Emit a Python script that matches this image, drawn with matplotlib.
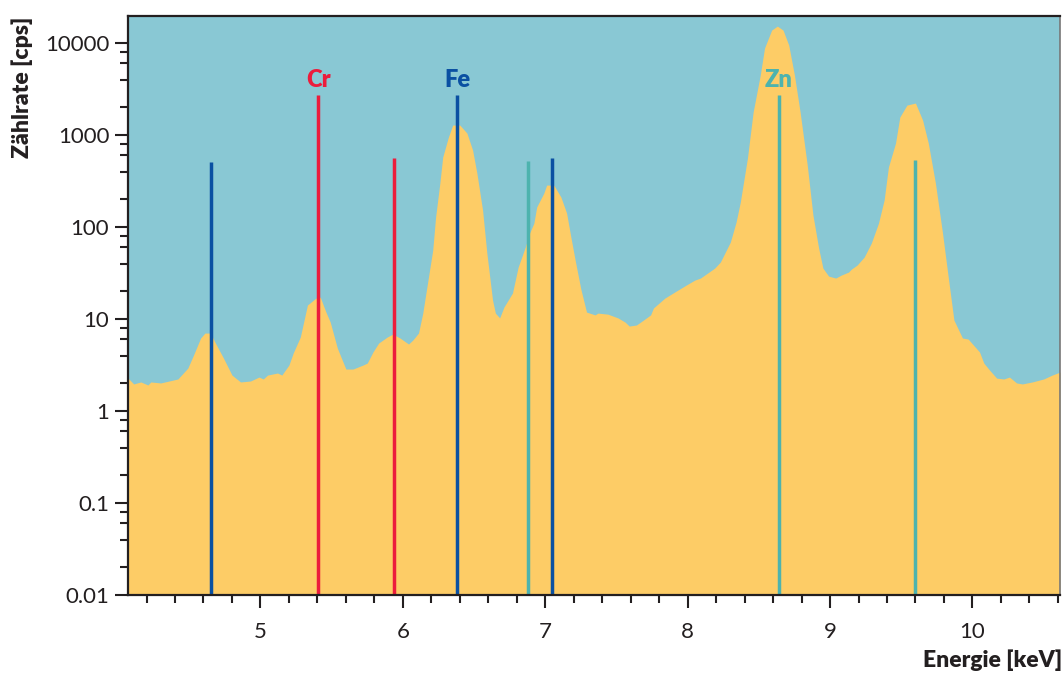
import matplotlib
matplotlib.use("Agg")
import matplotlib.pyplot as plt
from matplotlib.ticker import MultipleLocator, FixedLocator, FixedFormatter, NullFormatter

# ---- data ----
energy = [4.07, 4.11, 4.16, 4.21, 4.23, 4.30, 4.42, 4.49, 4.53, 4.58, 4.61, 4.65, 4.68, 4.74,
          4.80, 4.86, 4.93, 4.99, 5.02, 5.05, 5.12, 5.15, 5.20, 5.23, 5.28, 5.33, 5.39, 5.42,
          5.46, 5.49, 5.54, 5.60, 5.65, 5.72, 5.75, 5.79, 5.83, 5.89, 5.93, 5.98, 6.04, 6.07,
          6.11, 6.14, 6.18, 6.21, 6.23, 6.26, 6.28, 6.32, 6.35, 6.40, 6.45, 6.49, 6.52, 6.56,
          6.59, 6.63, 6.65, 6.68, 6.71, 6.77, 6.81, 6.86, 6.89, 6.92, 6.94, 6.99, 7.01, 7.06,
          7.11, 7.15, 7.18, 7.21, 7.25, 7.29, 7.35, 7.37, 7.44, 7.51, 7.56, 7.59, 7.64, 7.69,
          7.74, 7.76, 7.84, 7.91, 7.99, 8.05, 8.09, 8.14, 8.19, 8.23, 8.30, 8.34, 8.37, 8.42,
          8.46, 8.51, 8.54, 8.59, 8.63, 8.67, 8.71, 8.75, 8.79, 8.84, 8.88, 8.92, 8.95, 8.99,
          9.04, 9.08, 9.13, 9.15, 9.19, 9.24, 9.29, 9.34, 9.38, 9.41, 9.46, 9.49, 9.54, 9.60,
          9.65, 9.69, 9.74, 9.79, 9.83, 9.87, 9.93, 9.97, 10.05, 10.08, 10.12, 10.17, 10.22,
          10.26, 10.31, 10.35, 10.42, 10.50, 10.56, 10.615]
counts = [2.28, 1.97, 2.07, 1.92, 2.07, 2.02, 2.23, 2.93, 4.06, 6.22, 7.04, 7.04, 5.62, 3.77,
          2.46, 2.07, 2.12, 2.34, 2.23, 2.46, 2.59, 2.46, 3.16, 4.27, 6.37, 14.2, 16.9, 17.3,
          11.9, 9.28, 4.84, 2.86, 2.86, 3.16, 3.32, 4.38, 5.48, 6.37, 6.87, 6.22, 5.35, 5.91,
          7.04, 11.6, 28.6, 56.2, 128, 301, 576, 951, 1285, 1285, 1051, 687, 386, 153,
          52.2, 16.1, 11.6, 10.3, 13.5, 19.2, 36.8, 60.6, 86.1, 110, 165, 234, 286, 286,
          212, 142, 77.9, 43.8, 21.2, 11.9, 11.1, 11.6, 11.3, 10.3, 9.28, 8.39, 8.61, 9.75,
          11.1, 13.2, 16.9, 19.7, 23.4, 26.5, 27.9, 31.6, 35.8, 41.7, 68.7, 113, 187, 562,
          1778, 4487, 8830, 13840, 15300, 13840, 9510, 4487, 1778, 472, 135, 59.1, 35.8, 29.3,
          27.9, 30.1, 32.4, 34.9, 38.6, 47.2, 67.0, 110, 197, 449, 819, 1570, 2118, 2228,
          1456, 819, 301, 86.1, 28.6, 9.75, 6.22, 6.06, 4.38, 3.32, 2.79, 2.28, 2.23,
          2.34, 2.02, 1.97, 2.07, 2.23, 2.46, 2.65]

line_energy = [4.65, 6.38, 7.05, 5.405, 5.935, 6.88, 8.642, 9.60]
line_height = [509, 2750, 558, 2720, 558, 526, 2720, 535]
line_element = ["Fe", "Fe", "Fe", "Cr", "Cr", "Zn", "Zn", "Zn"]
label_text = ["Cr", "Fe", "Zn"]
label_energy = [5.405, 6.38, 8.642]

x_ticks = [5, 6, 7, 8, 9, 10]
y_ticks = [0.01, 0.1, 1, 10, 100, 1000, 10000]
y_tick_labels = ["0.01", "0.1", "1", "10", "100", "1000", "10000"]

# ---- styling ----
colors = {"Fe": "#0a50a2", "Cr": "#ec1c3c", "Zn": "#4db3ae"}
bg = "#89c8d4"
fill_col = "#fdcc66"
txt = "#231f20"
FONT = ["Lato", "DejaVu Sans"]
plt.rcParams["font.family"] = FONT

fig = plt.figure(figsize=(10.64, 6.73), dpi=100)
ax = fig.add_axes([128 / 1064, 1 - 595 / 673, (1060 - 128) / 1064, (595 - 16) / 673])
ax.set_facecolor(bg)
ax.set_yscale("log")
ax.set_xlim(4.07, 10.615)
ax.set_ylim(0.01, 19700)

ax.fill_between(energy, 0.001, counts, color=fill_col, linewidth=0, zorder=1)

for e, h, el in zip(line_energy, line_height, line_element):
    ax.vlines(e, 0.001, h, color=colors[el], linewidth=2.5, zorder=3)

for t, e in zip(label_text, label_energy):
    ax.text(e, 4000, t, color=colors[t], fontsize=17, fontweight="heavy",
            ha="center", va="center", zorder=4)

ax.xaxis.set_major_locator(FixedLocator(x_ticks))
ax.xaxis.set_minor_locator(MultipleLocator(0.2))
ax.yaxis.set_major_locator(FixedLocator(y_ticks))
ax.yaxis.set_major_formatter(FixedFormatter(y_tick_labels))
minor_y = [m * 10.0 ** d for d in range(-2, 4) for m in (2, 4, 6, 8)]
ax.yaxis.set_minor_locator(FixedLocator(minor_y))
ax.yaxis.set_minor_formatter(NullFormatter())

ax.tick_params(axis="both", which="major", length=9.5, width=1.5, color=txt,
               labelsize=16, labelcolor=txt)
ax.tick_params(axis="both", which="minor", length=5.5, width=1.5, color=txt)
ax.tick_params(axis="x", which="major", pad=10)
ax.tick_params(axis="y", which="major", pad=4)

for s in ["left", "bottom", "top"]:
    ax.spines[s].set_color(txt)
    ax.spines[s].set_linewidth(1.6)
ax.spines["right"].set_color("#777777")
ax.spines["right"].set_linewidth(1.2)
for s in ax.spines.values():
    s.set_zorder(5)

fig.text(22 / 1064, 1 - 17 / 673, "Zählrate [cps]", rotation=90, ha="center", va="top",
         fontsize=16.5, fontweight="heavy", color=txt)
fig.text(1062 / 1064, 1 - 667 / 673, "Energie [keV]", ha="right", va="baseline",
         fontsize=16.5, fontweight="heavy", color=txt)

fig.savefig("out.png", dpi=100)
